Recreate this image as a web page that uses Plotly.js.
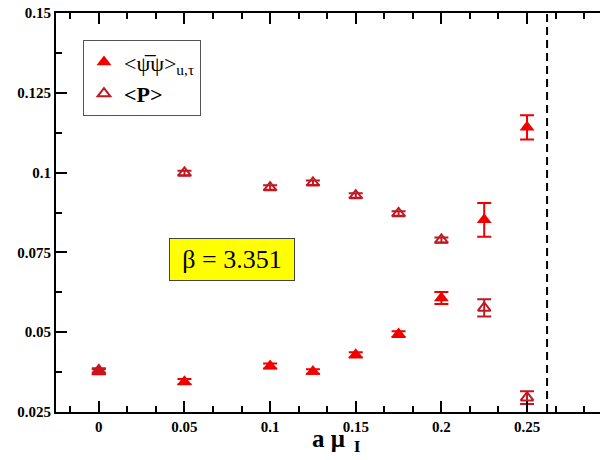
<!DOCTYPE html>
<html>
<head>
<meta charset="utf-8">
<script src="https://cdn.plot.ly/plotly-3.0.1.min.js"></script>
<style>
  html, body { margin: 0; padding: 0; background: #fff; overflow: hidden; }
  #chart { width: 600px; height: 460px; }
</style>
</head>
<body>
<div id="chart"></div>
<script>
// isospin chemical potential a*mu_I
const muI = [0, 0.05, 0.1, 0.125, 0.15, 0.175, 0.2, 0.225, 0.25];

// chiral condensate <psibar psi>_{u,tau}
const condensate    = [0.0376, 0.0345, 0.0394, 0.0377, 0.0429, 0.0494, 0.0607, 0.0852, 0.1142];
const condensateErr = [0.0008, 0.0008, 0.0008, 0.0007, 0.0008, 0.0009, 0.0019, 0.0053, 0.0038];

// Polyakov loop <P>
const polyakov    = [0.0380, 0.0999, 0.0953, 0.0968, 0.0928, 0.0872, 0.0789, 0.0576, 0.0295];
const polyakovErr = [0.0007, 0.0007, 0.0007, 0.0007, 0.0007, 0.0007, 0.0008, 0.0027, 0.0020];

// location of the transition line
const muTransition = 0.2617;
const betaLabel = "β = 3.351";
const xTitle = "<b>a μ<sub>  I</sub></b>";

const serif = "\"Liberation Serif\", \"Times New Roman\", Times, serif";
const red = "#f20000";
const darkRed = "#bf1a24";

const traces = [
  {
    x: muI, y: condensate, type: "scatter", mode: "markers",
    name: "&lt;ψ̅ψ&gt;<sub>u,τ</sub>",
    marker: { symbol: "triangle-up", size: 13, color: red, line: { width: 0 } },
    error_y: { type: "data", array: condensateErr, visible: true, color: red, thickness: 2, width: 7 }
  },
  {
    x: muI, y: polyakov, type: "scatter", mode: "markers",
    name: "<b>&lt;P&gt;</b>",
    marker: { symbol: "triangle-up-open", size: 11, color: darkRed, line: { width: 2, color: darkRed } },
    error_y: { type: "data", array: polyakovErr, visible: true, color: darkRed, thickness: 2, width: 7 }
  }
];

const axisFont = { family: serif, size: 15, color: "#000", weight: "bold" };

const layout = {
  width: 600, height: 460,
  margin: { l: 56, r: 0, t: 13, b: 48 },
  paper_bgcolor: "#fff", plot_bgcolor: "#fff",
  font: { family: serif },
  showlegend: true,
  legend: {
    x: 0.0496, y: 0.932, xanchor: "left", yanchor: "top",
    bgcolor: "#fff", bordercolor: "#555", borderwidth: 1,
    font: { family: serif, size: 22, color: "#000" },
    tracegroupgap: 0
  },
  xaxis: {
    range: [-0.025, 0.2926],
    tick0: 0, dtick: 0.05,
    ticks: "inside", ticklen: 11, tickwidth: 2, tickcolor: "#000",
    minor: { dtick: 0.05 / 3, tick0: 0, ticks: "inside", ticklen: 6, tickwidth: 2, tickcolor: "#000" },
    showline: true, linewidth: 2, linecolor: "#000", mirror: "ticks",
    showgrid: false, zeroline: false,
    tickfont: axisFont
  },
  yaxis: {
    range: [0.025, 0.15],
    tick0: 0.025, dtick: 0.025,
    ticks: "inside", ticklen: 11, tickwidth: 2, tickcolor: "#000",
    minor: { dtick: 0.0125, ticks: "inside", ticklen: 6, tickwidth: 2, tickcolor: "#000" },
    showline: true, linewidth: 2, linecolor: "#000", mirror: false,
    showgrid: false, zeroline: false,
    tickfont: axisFont
  },
  shapes: [
    {
      type: "line", xref: "x", yref: "paper",
      x0: muTransition, x1: muTransition, y0: 0, y1: 1,
      line: { color: "#000", width: 2, dash: "8px,5px" }
    }
  ],
  annotations: [
    {
      x: 0.0777, y: 0.0729, xref: "x", yref: "y",
      xanchor: "center", yanchor: "middle",
      text: betaLabel, showarrow: false,
      font: { family: serif, size: 26, color: "#000" },
      bgcolor: "#ffff00", bordercolor: "#444", borderwidth: 1,
      width: 112, borderpad: 6
    },
    {
      // horizontal axis title
      x: 0.516, y: -0.028, xref: "paper", yref: "paper",
      xanchor: "center", yanchor: "top",
      text: xTitle, showarrow: false,
      font: { family: serif, size: 25, color: "#000" }
    }
  ]
};

Plotly.newPlot("chart", traces, layout, { displayModeBar: false, staticPlot: true });
</script>
</body>
</html>
